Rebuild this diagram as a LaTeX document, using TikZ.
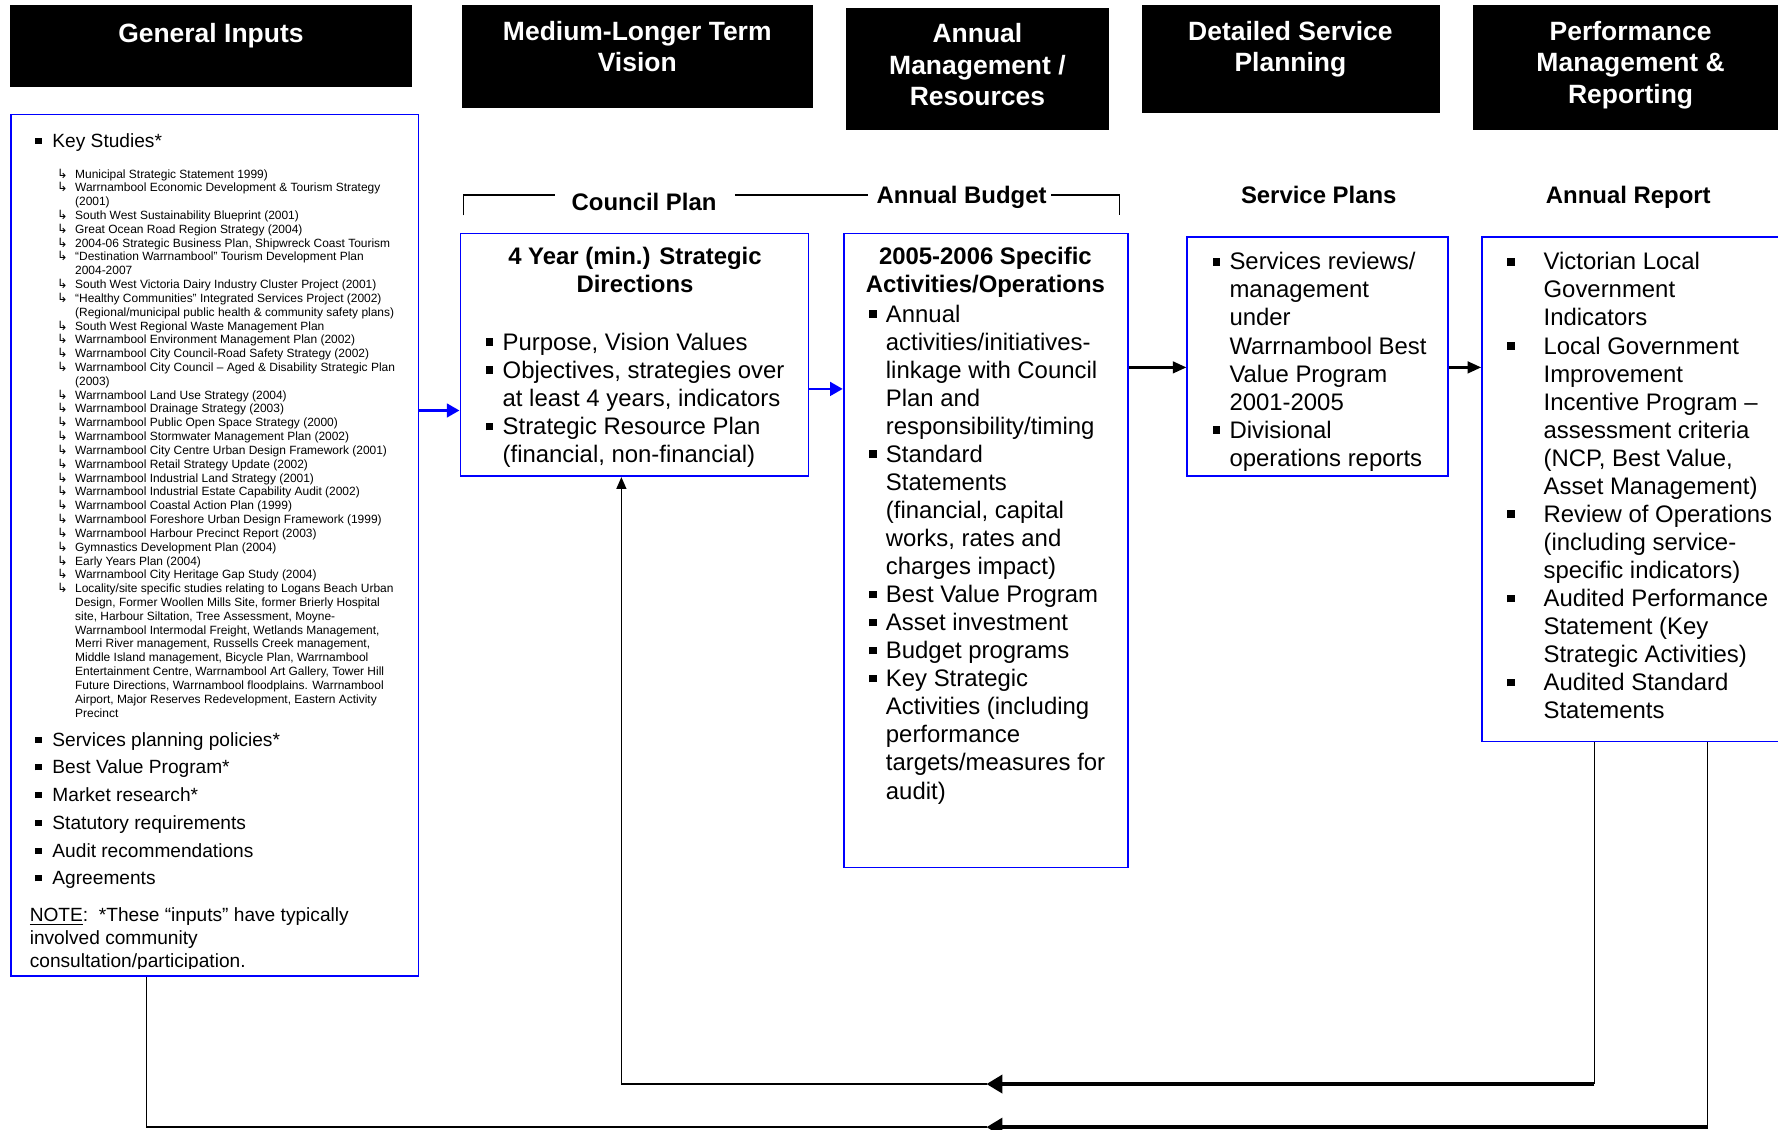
\documentclass[tikz,border=0pt]{standalone}
\usepackage{fontspec}
\setmainfont{Liberation Sans}
\newfontfamily\symfont{DejaVu Sans}
\usetikzlibrary{arrows.meta}
\usetikzlibrary{fit}

\newcommand{\sq}{\raisebox{0.18em}{\rule{0.32em}{0.32em}}}
\newcommand{\studymark}{{\symfont\fontsize{8}{8.67}\selectfont ↳}}
\newcommand{\hdrfont}{\fontsize{16.6}{19.9}\selectfont\bfseries}
\newcommand{\boxfont}{\fontsize{15}{17.6}\selectfont}
\newcommand{\titlefont}{\fontsize{15}{17.7}\selectfont\bfseries}
\newcommand{\inputfont}{\fontsize{12}{17.4}\selectfont}
\newcommand{\remarkfont}{\fontsize{12}{14.2}\selectfont}
\newcommand{\studyfont}{\fontsize{7.5}{8.67}\selectfont}

\tikzset{
	hdr/.style={fill=black, draw=black, inner sep=0pt},
	hdrtext/.style={text=white, font=\hdrfont, anchor=base, inner sep=0pt},
	inbox/.style={draw=blue, line width=1.1pt, inner sep=0pt},
	title/.style={font=\titlefont, anchor=base, inner sep=0pt},
	boxtext/.style={font=\boxfont, anchor=base west, inner sep=0pt},
	brk/.style={draw=black, line width=0.7pt},
	barrow/.style={draw=blue, line width=1.8pt, -{Triangle[length=2.8mm,width=3mm]}},
	karrow/.style={draw=black, line width=1.4pt, -{Triangle[length=3mm,width=2.6mm]}},
	fbthin/.style={draw=black, line width=0.8pt},
	fbthick/.style={draw=black, line width=2.1pt, -{Triangle[length=3.5mm,width=4mm]}}
}

\begin{document}
\begin{tikzpicture}[x=0.25mm, y=-0.25mm]
	\useasboundingbox (0,0) rectangle (1568,996);
	\clip (0,0) rectangle (1568,996);

	% header row
	\node [hdr, fit={(9,5) (363,76)}] (hGen) {};
	\node [hdr, fit={(408,5) (716,95)}] (hVis) {};
	\node [hdr, fit={(746,7) (977,114)}] (hMan) {};
	\node [hdr, fit={(1007,5) (1269,99)}] (hSvc) {};
	\node [hdr, fit={(1299,5) (1580,114)}] (hPerf) {};

	\node [hdrtext] (tGen) at (186,37.5) {General Inputs};
	\node [hdrtext] (tVis) at (562,35.5) {\begin{tabular}[t]{@{}c@{}}Medium-Longer Term\\Vision\end{tabular}};
	\node [hdrtext] (tMan) at (862,37.5) {\begin{tabular}[t]{@{}c@{}}Annual\\Management /\\Resources\end{tabular}};
	\node [hdrtext] (tSvc) at (1138,35.5) {\begin{tabular}[t]{@{}c@{}}Detailed Service\\Planning\end{tabular}};
	\node [hdrtext] (tPerf) at (1438,35.5) {\begin{tabular}[t]{@{}c@{}}Performance\\Management \&\\Reporting\end{tabular}};

	% section labels and bracket
	\node [title] (cp) at (568,185.5) {Council Plan};
	\node [title] (ab) at (848,179.5) {Annual Budget};
	\node [title] (sp) at (1163,179.5) {Service Plans};
	\node [title] (arl) at (1436,179.5) {Annual Report};

	\coordinate (brL) at (409,190);
	\coordinate (brR) at (987,190);
	\coordinate (brY) at (0,172);
	\draw [brk] (brL) |- ([xshift=-3.5mm]cp.west |- brY);
	\draw [brk] ([xshift=4mm]cp.east |- brY) -- ([xshift=-1.75mm]ab.west |- brY);
	\draw [brk] ([xshift=1mm]ab.east |- brY) -| (brR);

	% boxes
	\node [inbox, fit={(10,101) (369,861)}] (gi) {};
	\node [inbox, fit={(406,206) (713,420)}] (four) {};
	\node [inbox, fit={(744,206) (995,765)}] (ops) {};
	\node [inbox, fit={(1047,209) (1277,420)}] (svc) {};
	\node [inbox, fit={(1307,209) (1580,654)}] (ar) {};

	% general inputs
	\node [anchor=base west, inner sep=0pt, font=\inputfont] (keyst) at (31,130)
		{\begin{tabular}[t]{@{}p{3.75mm}@{}l@{}}\sq & Key Studies*\end{tabular}};
	\node [anchor=base west, inner sep=0pt, font=\studyfont] (studies) at (50,157)
		{\begin{tabular}[t]{@{}p{4mm}@{}l@{}}
			\studymark & Municipal Strategic Statement 1999)\\
			\studymark & Warrnambool Economic Development \& Tourism Strategy\\
			 & (2001)\\
			\studymark & South West Sustainability Blueprint (2001)\\
			\studymark & Great Ocean Road Region Strategy (2004)\\
			\studymark & 2004-06 Strategic Business Plan, Shipwreck Coast Tourism\\
			\studymark & “Destination Warrnambool” Tourism Development Plan\\
			 & 2004-2007\\
			\studymark & South West Victoria Dairy Industry Cluster Project (2001)\\
			\studymark & “Healthy Communities” Integrated Services Project (2002)\\
			 & (Regional/municipal public health \& community safety plans)\\
			\studymark & South West Regional Waste Management Plan\\
			\studymark & Warrnambool Environment Management Plan (2002)\\
			\studymark & Warrnambool City Council-Road Safety Strategy (2002)\\
			\studymark & Warrnambool City Council – Aged \& Disability Strategic Plan\\
			 & (2003)\\
			\studymark & Warrnambool Land Use Strategy (2004)\\
			\studymark & Warrnambool Drainage Strategy (2003)\\
			\studymark & Warrnambool Public Open Space Strategy (2000)\\
			\studymark & Warrnambool Stormwater Management Plan (2002)\\
			\studymark & Warrnambool City Centre Urban Design Framework (2001)\\
			\studymark & Warrnambool Retail Strategy Update (2002)\\
			\studymark & Warrnambool Industrial Land Strategy (2001)\\
			\studymark & Warrnambool Industrial Estate Capability Audit (2002)\\
			\studymark & Warrnambool Coastal Action Plan (1999)\\
			\studymark & Warrnambool Foreshore Urban Design Framework (1999)\\
			\studymark & Warrnambool Harbour Precinct Report (2003)\\
			\studymark & Gymnastics Development Plan (2004)\\
			\studymark & Early Years Plan (2004)\\
			\studymark & Warrnambool City Heritage Gap Study (2004)\\
			\studymark & Locality/site specific studies relating to Logans Beach Urban\\
			 & Design, Former Woollen Mills Site, former Brierly Hospital\\
			 & site, Harbour Siltation, Tree Assessment, Moyne-\\
			 & Warrnambool Intermodal Freight, Wetlands Management,\\
			 & Merri River management, Russells Creek management,\\
			 & Middle Island management, Bicycle Plan, Warrnambool\\
			 & Entertainment Centre, Warrnambool Art Gallery, Tower Hill\\
			 & Future Directions, Warrnambool floodplains. Warrnambool\\
			 & Airport, Major Reserves Redevelopment, Eastern Activity\\
			 & Precinct
		\end{tabular}};
	\node [anchor=base west, inner sep=0pt, font=\inputfont] (others) at (31,658)
		{\begin{tabular}[t]{@{}p{3.75mm}@{}l@{}}
			\sq & Services planning policies*\\
			\sq & Best Value Program*\\
			\sq & Market research*\\
			\sq & Statutory requirements\\
			\sq & Audit recommendations\\
			\sq & Agreements
		\end{tabular}};
	\begin{scope}
		\clip (gi.north west) rectangle ([yshift=2mm]gi.south east);
		\node [anchor=base west, inner sep=0pt, font=\remarkfont] (note) at (26,813)
			{\begin{tabular}[t]{@{}l@{}}
				\underline{NOTE}:\ \ *These “inputs” have typically\\
				involved community\\
				consultation/participation.
			\end{tabular}};
	\end{scope}

	% council plan
	\node [title] (fourT) at (560,233)
		{\begin{tabular}[t]{@{}c@{}}4 Year (min.) Strategic\\Directions\end{tabular}};
	\node [boxtext] (fourL) at (428,309)
		{\begin{tabular}[t]{@{}p{3.75mm}@{}l@{}}
			\sq & Purpose, Vision Values\\
			\sq & Objectives, strategies over\\
			 & at least 4 years, indicators\\
			\sq & Strategic Resource Plan\\
			 & (financial, non-financial)
		\end{tabular}};

	% annual budget
	\node [title] (opsT) at (869,233)
		{\begin{tabular}[t]{@{}c@{}}2005-2006 Specific\\Activities/Operations\end{tabular}};
	\node [boxtext] (opsL) at (766,284)
		{\begin{tabular}[t]{@{}p{3.75mm}@{}l@{}}
			\sq & Annual\\
			 & activities/initiatives-\\
			 & linkage with Council\\
			 & Plan and\\
			 & responsibility/timing\\
			\sq & Standard\\
			 & Statements\\
			 & (financial, capital\\
			 & works, rates and\\
			 & charges impact)\\
			\sq & Best Value Program\\
			\sq & Asset investment\\
			\sq & Budget programs\\
			\sq & Key Strategic\\
			 & Activities (including\\
			 & performance\\
			 & targets/measures for\\
			 & audit)
		\end{tabular}};

	% service plans
	\node [boxtext] (svcL) at (1069,238)
		{\begin{tabular}[t]{@{}p{3.75mm}@{}l@{}}
			\sq & Services reviews/\\
			 & management\\
			 & under\\
			 & Warrnambool Best\\
			 & Value Program\\
			 & 2001-2005\\
			\sq & Divisional\\
			 & operations reports
		\end{tabular}};

	% annual report
	\node [boxtext] (arL) at (1329,238)
		{\begin{tabular}[t]{@{}p{8mm}@{}l@{}}
			\sq & Victorian Local\\
			 & Government\\
			 & Indicators\\
			\sq & Local Government\\
			 & Improvement\\
			 & Incentive Program –\\
			 & assessment criteria\\
			 & (NCP, Best Value,\\
			 & Asset Management)\\
			\sq & Review of Operations\\
			 & (including service-\\
			 & specific indicators)\\
			\sq & Audited Performance\\
			 & Statement (Key\\
			 & Strategic Activities)\\
			\sq & Audited Standard\\
			 & Statements
		\end{tabular}};

	% flow between boxes
	\coordinate (lvA) at (0,362);
	\coordinate (lvB) at (0,343);
	\coordinate (lvC) at (0,324);
	\draw [barrow] (gi.east |- lvA) -- (four.west |- lvA);
	\draw [barrow] (four.east |- lvB) -- (ops.west |- lvB);
	\draw [karrow] (ops.east |- lvC) -- (svc.west |- lvC);
	\draw [karrow] (svc.east |- lvC) -- (ar.west |- lvC);

	% feedback loops
	\coordinate (fbA) at (1406,956);
	\coordinate (fbB) at (1506,994);
	\coordinate (midA) at (870,956);
	\coordinate (midB) at (870,994);
	\coordinate (cornA) at (548,956);
	\coordinate (cornB) at (129,994);

	\draw [fbthin] (ar.south -| fbA) -- (fbA);
	\draw [fbthick] (fbA) -- (midA);
	\draw [fbthin, -{Triangle[length=2.6mm,width=2.2mm]}] (midA) -- (cornA) -- (four.south -| cornA);

	\draw [fbthin] (ar.south -| fbB) -- (fbB);
	\draw [fbthick] (fbB) -- (midB);
	\draw [fbthin] (midB) -- (cornB) -- (gi.south -| cornB);
\end{tikzpicture}
\end{document}
